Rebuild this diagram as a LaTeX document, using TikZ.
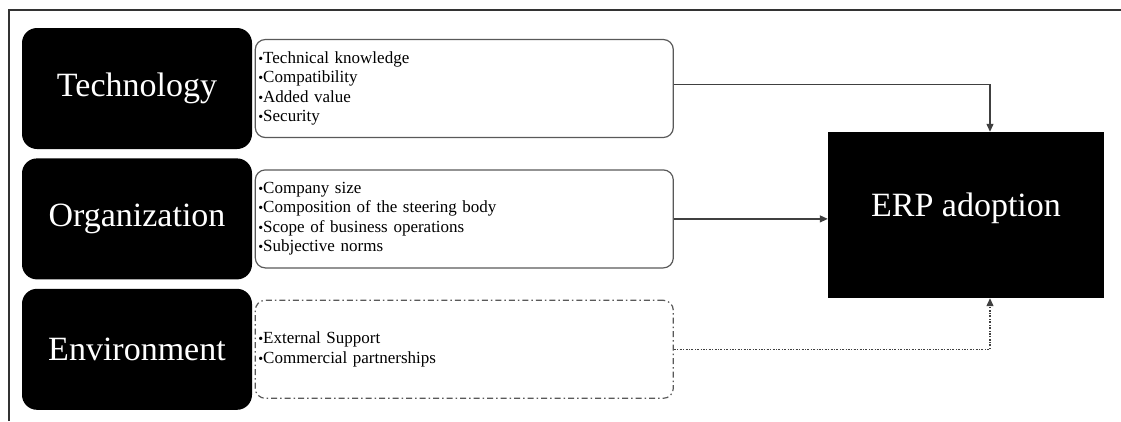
\documentclass[tikz,border=0pt]{standalone}
\usepackage{fontspec}
\setmainfont{Liberation Serif}
\usepackage{tikz}
\usetikzlibrary{arrows.meta, positioning}
\newcommand{\itm}{{\fontsize{14}{14}\selectfont\textbullet}}

\begin{document}
\begin{tikzpicture}[
    x=1pt, y=-1pt,
    every node/.style={font=\fontsize{17}{19.5}\selectfont},
    factorbox/.style={rectangle, rounded corners=15pt, fill=black, text=white, minimum width=230pt, minimum height=121pt, font=\fontsize{34}{38}\selectfont},
    itembox/.style={rectangle, rounded corners=10pt, draw=black!65, line width=1.2pt, text width=412pt, minimum height=98pt, align=left, inner sep=3pt},
    envbox/.style={itembox, dash pattern=on 6pt off 3pt on 1.5pt off 3pt},
    outbox/.style={rectangle, fill=black, text=white, minimum width=276pt, minimum height=166pt, font=\fontsize{34}{38}\selectfont},
    flow/.style={-{Triangle[length=8pt,width=7pt]}, line width=1.2pt, black!75},
    flowdot/.style={flow, dash pattern=on 2pt off 1.5pt on 0.8pt off 1.5pt}
]
\useasboundingbox (0,0) rectangle (1121,421);

% Rahmen
\draw[line width=2pt, black!80] (9,421) -- (9,9.5) -- (1121,9.5);

% Faktoren (TOE)
\node[factorbox] (tech) at (137,88.5) {Technology};
\node[factorbox, below=9pt of tech] (org) {Organization};
\node[factorbox, below=9pt of org] (env) {Environment};

% Einflussgroessen
\node[itembox, right=2.5pt of tech] (techlist) {\itm Technical knowledge\\\itm Compatibility\\\itm Added value\\\itm Security};
\node[itembox, right=2.5pt of org] (orglist) {\itm Company size\\\itm Composition of the steering body\\\itm Scope of business operations\\\itm Subjective norms};
\node[envbox, right=2.5pt of env] (envlist) {\itm External Support\\\itm Commercial partnerships};

% Ergebnis
\node[outbox] (erp) at (966,215) {};
\node[outbox, minimum height=0pt, fill=none, inner sep=0pt] (erptext) at (966,208) {ERP adoption};
\coordinate (techout) at ([yshift=4pt]techlist.east);
\coordinate (erptop) at ([xshift=24pt]erp.north);
\coordinate (erpbot) at ([xshift=24pt]erp.south);

% Pfeile
\draw[flow] (techout) -| (erptop);
\draw[flow] (orglist.east) -- (orglist.east -| erp.west);
\draw[flowdot] (envlist.east) -| (erpbot);

\end{tikzpicture}
\end{document}
